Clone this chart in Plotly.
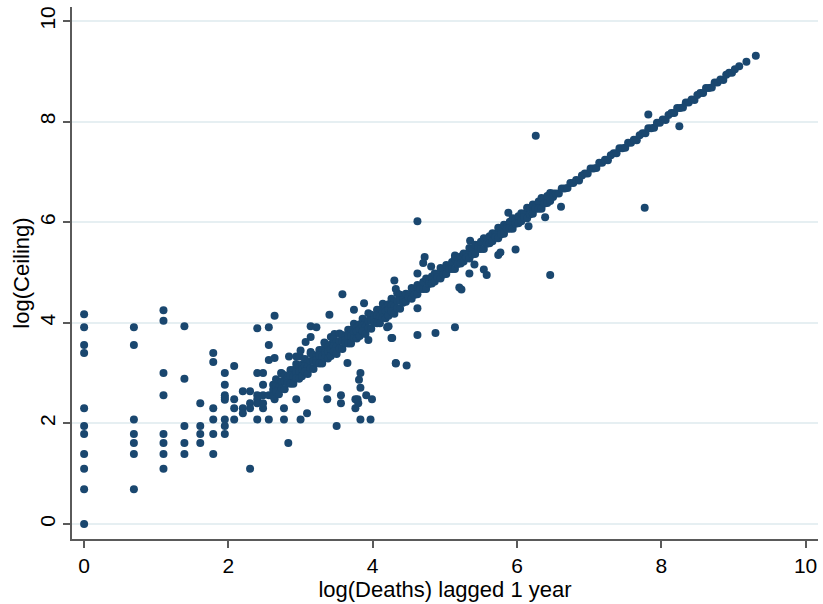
import plotly.graph_objects as go

# ---- axis labels / ticks ----
x_title = "log(Deaths) lagged 1 year"
y_title = "log(Ceiling)"
tick_vals = [0, 2, 4, 6, 8, 10]
tick_text = ["0", "2", "4", "6", "8", "10"]

# ---- low-count columns (log of small integer deaths) ----
col_x = [0.00, 0.69, 1.10, 1.39, 1.61, 1.79, 1.95]
col_y = [
    [4.17, 3.91, 3.56, 3.40, 2.30, 1.95, 1.79, 1.39, 1.10, 0.69, 0.00],
    [3.91, 3.56, 2.08, 1.79, 1.61, 1.39, 0.69],
    [4.25, 4.04, 3.00, 2.56, 1.79, 1.61, 1.39, 1.10],
    [3.93, 2.89, 1.95, 1.61, 1.39],
    [2.40, 1.95, 1.79, 1.61],
    [3.40, 3.22, 2.30, 2.08, 1.79, 1.39],
    [3.00, 2.77, 2.56, 2.51, 2.47, 2.08, 1.95, 1.79],
]

# ---- scattered points off the main band ----
scat_x = [2.08, 2.08, 2.08, 2.08, 2.20, 2.20, 2.20, 2.30, 2.30, 2.30, 2.30,
          2.40, 2.40, 2.40, 2.40, 2.40, 2.40, 2.48, 2.48, 2.48, 2.48, 2.48,
          2.56, 2.56, 2.56, 2.56, 2.56, 2.64, 2.64, 2.64, 2.77, 2.77, 2.83,
          2.84, 2.94, 2.99, 2.94, 3.00, 3.09, 3.14, 3.22, 3.37, 3.37, 3.40,
          3.50, 3.56, 3.56, 3.58, 3.74, 3.76, 3.79, 3.76, 3.80, 3.81, 3.83,
          3.83, 3.83, 3.91, 3.97, 3.99, 3.65, 4.27, 4.32, 4.22, 3.94, 3.88,
          3.14, 3.07, 3.00, 3.14, 3.33, 3.42, 3.47, 2.73,
          4.62, 5.88, 6.61, 6.39, 6.16, 5.98, 5.74, 5.77, 6.46, 5.34, 5.41,
          5.54, 5.58, 5.20, 5.23, 5.35, 5.14, 4.72, 4.70, 4.81, 4.62, 4.30,
          4.32, 4.62, 4.20, 4.26, 4.62, 4.87, 5.14, 4.32, 4.47,
          9.31, 9.18, 9.08, 7.82, 8.25, 7.77, 6.26]
scat_y = [3.14, 2.48, 2.30, 2.08, 2.64, 2.30, 2.20, 2.64, 2.40, 2.30, 1.10,
          3.89, 3.00, 2.56, 2.48, 2.40, 2.08, 3.00, 2.77, 2.56, 2.30, 2.40,
          3.91, 3.56, 3.26, 2.56, 2.08, 4.14, 3.30, 2.48, 2.30, 2.08, 1.61,
          3.33, 3.33, 3.33, 2.48, 2.08, 2.20, 3.93, 3.91, 2.71, 2.48, 4.16,
          1.95, 2.40, 2.56, 4.57, 4.26, 2.48, 2.48, 2.30, 2.40, 2.87, 3.00,
          2.71, 2.08, 2.56, 2.08, 2.48, 3.20, 3.70, 3.20, 3.93, 3.66, 4.39,
          3.72, 3.62, 3.45, 3.42, 3.61, 3.72, 3.78, 3.00,
          6.02, 6.19, 6.31, 6.10, 5.92, 5.46, 5.35, 5.40, 4.95, 4.98, 5.16,
          5.06, 4.95, 4.70, 4.66, 5.63, 5.34, 5.31, 5.19, 5.12, 4.98, 4.84,
          4.67, 4.29, 3.91, 3.70, 3.76, 3.80, 3.91, 3.19, 3.15,
          9.31, 9.19, 9.10, 8.14, 7.91, 6.29, 7.72]

# ---- main band, lower part (wide) ----
band1_x = [2.62, 2.66, 2.70, 2.74, 2.78, 2.82, 2.86, 2.90, 2.94, 2.98,
           3.02, 3.06, 3.10, 3.14, 3.18, 3.22, 3.26, 3.30, 3.34, 3.38,
           3.42, 3.46, 3.50, 3.54, 3.58, 3.62, 3.66, 3.70, 3.74, 3.78,
           3.82, 3.86, 3.90, 3.94, 3.98, 4.02, 4.06, 4.10, 4.14, 4.18,
           4.22, 4.26, 4.30, 4.34, 4.38, 4.42]
band1_yu = [2.77, 2.88, 2.82, 2.99, 2.96, 2.92, 3.06, 3.06, 3.18, 3.11,
            3.17, 3.28, 3.22, 3.39, 3.36, 3.32, 3.46, 3.46, 3.58, 3.51,
            3.57, 3.68, 3.62, 3.79, 3.76, 3.72, 3.86, 3.86, 3.98, 3.91,
            3.97, 4.08, 4.02, 4.19, 4.16, 4.12, 4.26, 4.26, 4.38, 4.31,
            4.37, 4.48, 4.42, 4.59, 4.56, 4.52]
band1_yc = [2.67, 2.74, 2.72, 2.84, 2.84, 2.86, 2.95, 2.93, 3.01, 3.03,
            3.07, 3.14, 3.12, 3.24, 3.24, 3.26, 3.35, 3.33, 3.41, 3.43,
            3.47, 3.54, 3.52, 3.64, 3.64, 3.66, 3.75, 3.73, 3.81, 3.83,
            3.87, 3.94, 3.92, 4.04, 4.04, 4.06, 4.15, 4.13, 4.21, 4.23,
            4.27, 4.34, 4.32, 4.44, 4.44, 4.46]
band1_yl = [2.54, 2.63, 2.58, 2.69, 2.68, 2.80, 2.79, 2.79, 2.90, 2.89,
            2.94, 3.03, 2.98, 3.09, 3.08, 3.20, 3.19, 3.19, 3.30, 3.29,
            3.34, 3.43, 3.38, 3.49, 3.48, 3.60, 3.59, 3.59, 3.70, 3.69,
            3.74, 3.83, 3.78, 3.89, 3.88, 4.00, 3.99, 3.99, 4.10, 4.09,
            4.14, 4.23, 4.18, 4.29, 4.28, 4.40]

# ---- main band, middle part ----
band2_x = [4.46, 4.50, 4.54, 4.58, 4.62, 4.66, 4.70, 4.74, 4.78, 4.82,
           4.86, 4.90, 4.94, 4.98, 5.02, 5.06, 5.10, 5.14, 5.18, 5.22,
           5.26, 5.30, 5.34, 5.38, 5.42, 5.46, 5.50, 5.54, 5.58, 5.62,
           5.66, 5.70, 5.74, 5.78, 5.82, 5.86, 5.90, 5.94, 5.98, 6.02,
           6.06, 6.10, 6.14, 6.18, 6.22, 6.26, 6.30, 6.34, 6.38, 6.42,
           6.46, 6.50]
band2_yu = [4.58, 4.57, 4.69, 4.67, 4.75, 4.72, 4.81, 4.88, 4.86, 4.92,
            4.98, 4.97, 5.09, 5.07, 5.15, 5.12, 5.21, 5.28, 5.26, 5.32,
            5.38, 5.37, 5.49, 5.47, 5.55, 5.52, 5.61, 5.68, 5.66, 5.72,
            5.78, 5.77, 5.89, 5.87, 5.95, 5.92, 6.01, 6.08, 6.06, 6.12,
            6.18, 6.17, 6.29, 6.27, 6.35, 6.32, 6.41, 6.48, 6.46, 6.52,
            6.58, 6.57]
band2_yl = [4.42, 4.50, 4.48, 4.56, 4.57, 4.67, 4.67, 4.67, 4.77, 4.78,
            4.82, 4.90, 4.88, 4.96, 4.97, 5.07, 5.07, 5.07, 5.17, 5.18,
            5.22, 5.30, 5.28, 5.36, 5.37, 5.47, 5.47, 5.47, 5.57, 5.58,
            5.62, 5.70, 5.68, 5.76, 5.77, 5.87, 5.87, 5.87, 5.97, 5.98,
            6.02, 6.10, 6.08, 6.16, 6.17, 6.27, 6.27, 6.27, 6.37, 6.38,
            6.42, 6.50]

# ---- main band, upper part (tight) ----
band3_x = [6.54, 6.58, 6.62, 6.66, 6.70, 6.74, 6.78, 6.82, 6.86, 6.90,
           6.94, 6.98, 7.02, 7.06, 7.10, 7.14, 7.18, 7.22, 7.26, 7.30,
           7.34, 7.38, 7.42, 7.46, 7.50, 7.54, 7.58, 7.62, 7.66, 7.70,
           7.74, 7.78, 7.82, 7.86, 7.90, 7.94, 7.98, 8.02, 8.06, 8.10,
           8.14, 8.18, 8.22, 8.26, 8.30, 8.34, 8.38, 8.42, 8.46, 8.50,
           8.54, 8.58, 8.62, 8.66, 8.70, 8.74, 8.78, 8.82, 8.86, 8.90,
           8.94, 8.98, 9.02]
band3_y = [6.57, 6.57, 6.67, 6.67, 6.68, 6.78, 6.78, 6.84, 6.83, 6.93,
           6.97, 6.97, 7.07, 7.07, 7.08, 7.18, 7.18, 7.24, 7.23, 7.33,
           7.37, 7.37, 7.47, 7.47, 7.48, 7.58, 7.58, 7.64, 7.63, 7.73,
           7.77, 7.77, 7.87, 7.87, 7.88, 7.98, 7.98, 8.04, 8.03, 8.13,
           8.17, 8.17, 8.27, 8.27, 8.28, 8.38, 8.38, 8.44, 8.43, 8.53,
           8.57, 8.57, 8.67, 8.67, 8.68, 8.78, 8.78, 8.84, 8.83, 8.93,
           8.97, 8.97, 9.04]

# ---- assemble ----
xs, ys = [], []
for cx, cys in zip(col_x, col_y):
    xs += [cx] * len(cys)
    ys += cys
xs += scat_x; ys += scat_y
for yy in (band1_yu, band1_yc, band1_yl):
    xs += band1_x; ys += yy
for yy in (band2_yu, band2_yl):
    xs += band2_x; ys += yy
xs += band3_x; ys += band3_y

NAVY = "#1a476f"
FONT = "Liberation Sans, Arial, sans-serif"

fig = go.Figure(go.Scatter(
    x=xs, y=ys, mode="markers",
    marker=dict(color=NAVY, size=8, line=dict(width=0)),
    showlegend=False, hoverinfo="x+y",
))

axis_common = dict(
    showline=True, linecolor="#5a5a5a", linewidth=1.5,
    ticks="outside", ticklen=7, tickwidth=1.5, tickcolor="#5a5a5a",
    tickvals=tick_vals, ticktext=tick_text, zeroline=False,
    tickfont=dict(family=FONT, size=21, color="#000000"),
    automargin=False,
)

fig.update_layout(
    template="none",
    width=823, height=604,
    margin=dict(l=72, r=5, t=7, b=65),
    paper_bgcolor="white", plot_bgcolor="white",
    font=dict(family=FONT, color="#000000"),
    xaxis=dict(
        range=[-0.168, 10.172], showgrid=False,
        title=dict(text=x_title, font=dict(family=FONT, size=22), standoff=0),
        **axis_common,
    ),
    yaxis=dict(
        range=[-0.298, 10.279], showgrid=True, gridcolor="#e6eff2", gridwidth=2,
        tickangle=-90,
        title=dict(text=y_title, font=dict(family=FONT, size=22), standoff=0),
        **axis_common,
    ),
)

fig.write_html("out.html")
